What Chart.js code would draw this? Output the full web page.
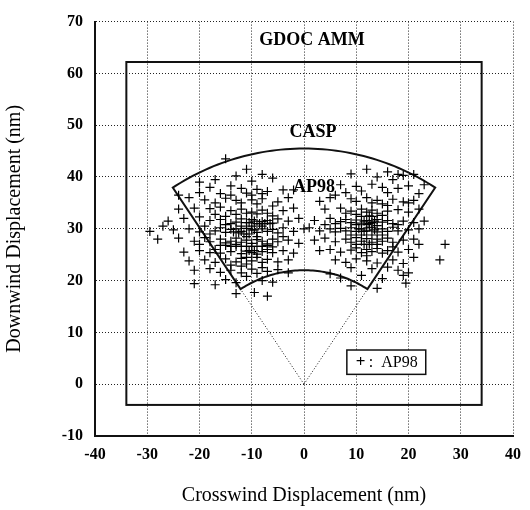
<!DOCTYPE html>
<html>
<head>
<meta charset="utf-8">
<script src="https://cdn.jsdelivr.net/npm/chart.js@4/dist/chart.umd.min.js"></script>
<style>
  html, body { margin: 0; padding: 0; background: #fff; }
</style>
</head>
<body>
<canvas id="dispChart" width="530" height="510"></canvas>
<script>
// --- dados ---
const xTicks = [-40, -30, -20, -10, 0, 10, 20, 30, 40];
const yTicks = [-10, 0, 10, 20, 30, 40, 50, 60, 70];

// AP98, nuvem da esquerda (crosswind, downwind)
const ap98Left = [
  [-15,43.5],[-11,41.5],[-13,40.2],[-8,40.5],[-17,39.5],[-6,39.8],[-10,39.2],[-20,39],
  [-18,38],[-14,38.3],[-12,37.8],[-9,37.6],[-7,37.2],[-4,37.5],[-20,37],[-16,36.8],[-11,36.9],[-2,37.5],
  [-22,36],[-19,35.6],[-15,35.9],[-13,35.5],[-10,35.6],[-8,35.8],[-5,35.2],[-3,36],[-17,35],[-12,35],[-9,34.8],[-24,36.5],[-10,36.5],[-8,36.8],[-14,36.5],
  [-24,33.8],[-21,34],[-18,33.9],[-16,34.2],[-14,33.5],[-12,33.8],[-10,33.2],[-8,33.6],[-7,33],[-6,34.4],[-4,33.5],[-2,34],[-11,33],[-9,32.9],[-13,32.8],[-17,32.8],[-6,32.5],
  [-26,31.5],[-23,32],[-20,32.3],[-18,31.6],[-16,31.8],[-15,32.4],[-13,31.3],[-12,31.9],[-11,31.2],[-10,31.8],[-9,31],[-8,31.4],[-7,31.6],[-6,31.1],[-5,31.9],[-3,31.5],[-1,32],[-9.5,31.5],[-8.5,31],[-7.5,31],[-6.5,31],[-10.5,31.2],[-14,31],[-15,30.8],
  [-12,30.5],[-10,30.5],[-8,30.5],
  [-29.5,29.5],[-27,30.5],[-25,29.8],[-22,30],[-20,29.4],[-19,30.5],[-17,29.6],[-16,30.2],[-15,29.3],[-14,29.9],[-13,30],[-12,29.5],[-11,30.1],[-10,29.8],[-9,29.3],[-8,30],[-7,29.5],[-6,29.9],[-5,29.2],[-4,30.2],[-2,29.5],[0,30],[-11.5,29],[-10.5,29],[-12.5,29.2],[-9.5,29.8],[-13.5,29.4],[-18,29],
  [-11,28.5],[-9,28.5],[-4,28.5],
  [-28,28],[-24,28.2],[-21,27.6],[-19,28.3],[-18,27.5],[-16,28],[-15,27.3],[-14,27.6],[-13,28.2],[-12,27.4],[-11,27.8],[-10,27.2],[-9,27.9],[-8,27.6],[-7,27.1],[-6,28],[-5,27.5],[-3,27.8],[-1,27.2],[-15,26.8],[-14,26.6],[-13,26.6],[-12,26.6],[-11,26.6],[-10,26.6],[-9,26.6],[-8,26.6],[-7,26.8],[-13,27],[-20,27],[-16,26.8],[-7,26],[-6,26.5],
  [-23,25.5],[-20,25.8],[-18,25.4],[-17,26],[-16,25.3],[-14,25.6],[-12,25.2],[-11,25.7],[-10,25.4],[-9,25.1],[-8,25.6],[-6,25.4],[-4,25.8],[-2,25.3],[-10.5,25.8],[-9.5,25.8],[-9,24.5],[-11,24.5],
  [-22,23.8],[-19,24],[-17,23.5],[-15,24.2],[-13,23.6],[-12,24.3],[-10,23.8],[-8,23.5],[-7,24.1],[-5,23.6],[-3,24],[-11,23.2],[-14,23],[-12,22.8],[-8,22.5],
  [-21,22],[-18,22.3],[-16,21.6],[-14,22],[-12,21.5],[-10,22.2],[-9,21.4],[-7,21.8],[-5,22.1],[-3,21.5],[-11,20.8],
  [-21,19.4],[-17,19.2],[-15,20.2],[-13,19.6],[-8,20],[-6,19.7],[-13,17.5],[-9.5,17.7],[-7,17]
];

// AP98, nuvem da direita
const ap98Right = [
  [12,41.5],[16,41],[19,40.3],[14,40],[9,40.6],[21,40.5],[17,39.5],[18,40.5],
  [7,38.5],[10,38.2],[13,38.6],[15,38],[18,37.8],[20,38.3],[11,37.3],[16,37],[22,36.8],[8,37],[23,38.5],[6,36.5],
  [5,36],[9,35.8],[12,36],[14,35.5],[17,35.7],[19,35.2],[21,35.5],[10,35.3],[13,35],[15,34.8],[3,35.3],[20,35],[16,34.5],
  [4,33.8],[7,34],[9,33.4],[11,33.8],[12,33.2],[13,33.6],[14,33],[16,33.4],[18,33.7],[20,33.2],[22,33.8],[10,32.8],[15,32.6],[12.5,32.5],[8,33],[11,32.4],[13,32.4],
  [2,31.6],[5,32],[7,31.4],[8,31.8],[9,31.2],[10,31.7],[11,31.1],[12,31.6],[13,31.2],[14,31.8],[15,31.3],[16,31.6],[17,31],[19,31.5],[21,31.2],[11.5,31.5],[12.5,31],[13.5,31.5],[23,31.5],[6,31],[4,30.8],
  [12,30.8],[10,30.8],[14,30.6],[18,30.8],
  [1,30.2],[3,29.6],[5,30],[6,29.4],[7,30.1],[8,29.6],[9,30.2],[10,29.5],[11,30],[12,29.6],[13,30.2],[14,29.4],[15,30],[16,29.5],[17,30.3],[18,29.6],[20,29.8],[22,30],[10.5,30],[11.5,29.5],[12.5,30.3],[13.5,29.8],
  [11,28.8],[13,28.8],[15,28.8],[9,28.8],
  [2,27.8],[4,28.2],[6,27.5],[8,28],[9,27.4],[10,28.3],[11,27.6],[12,28.1],[13,27.4],[14,28],[15,27.6],[16,28.2],[17,27.4],[19,27.8],[21,28],[27,27],[12.5,27],[11.5,27],[10,27],[14,27],[22,27],
  [3,25.8],[5,26],[7,25.5],[9,25.9],[11,25.4],[12,26],[13,25.6],[14,26.2],[15,25.3],[16,25.8],[18,25.5],[20,26],[26,24],[10,26.3],[17,26.5],[12,24.8],
  [6,24],[8,23.5],[10,24.2],[12,23.8],[14,23.4],[17,24],[19,23.3],[21,24.5],[9,22.5],[13,22.3],[16,22.6],[18,22],[20,21.5],
  [5,21.3],[7,20.5],[11,21],[15,20.4],[19,21],[9,19],[14,18.5],[19.5,19.5]
];

// regiões (unidades nm)
const gdocBox = { x1: -34, x2: 34, y1: -4, y2: 62.2 };
const caspSector = { rIn: 22, rOut: 45.5, halfAngleDeg: 33.5 };
const legendBox = { x1: 8.2, x2: 23.3, y1: 1.9, y2: 6.6 };

const serif = "'Liberation Serif', 'Times New Roman', serif";

function toXY(list) { return list.map(p => ({ x: p[0], y: p[1] })); }

const regioesPlugin = {
  id: 'regioes',
  beforeDatasetsDraw(chart) {
    const { ctx } = chart;
    const xs = chart.scales.x, ys = chart.scales.y;
    const px = v => xs.getPixelForValue(v);
    const py = v => ys.getPixelForValue(v);
    ctx.save();
    ctx.strokeStyle = '#111';

    // GDOC AMM
    ctx.lineWidth = 2;
    ctx.strokeRect(px(gdocBox.x1), py(gdocBox.y2), px(gdocBox.x2) - px(gdocBox.x1), py(gdocBox.y1) - py(gdocBox.y2));

    // CASP (setor)
    const a = caspSector.halfAngleDeg * Math.PI / 180;
    const n = 60;
    ctx.beginPath();
    for (let i = 0; i <= n; i++) {
      const t = -a + 2 * a * i / n;
      const X = px(caspSector.rOut * Math.sin(t)), Y = py(caspSector.rOut * Math.cos(t));
      if (i === 0) ctx.moveTo(X, Y); else ctx.lineTo(X, Y);
    }
    for (let i = n; i >= 0; i--) {
      const t = -a + 2 * a * i / n;
      ctx.lineTo(px(caspSector.rIn * Math.sin(t)), py(caspSector.rIn * Math.cos(t)));
    }
    ctx.closePath();
    ctx.stroke();

    // linhas pontilhadas da origem
    ctx.lineWidth = 1;
    ctx.setLineDash([1, 2]);
    ctx.beginPath();
    [-a, a].forEach(t => {
      ctx.moveTo(px(0), py(0));
      ctx.lineTo(px(caspSector.rIn * Math.sin(t)), py(caspSector.rIn * Math.cos(t)));
    });
    ctx.stroke();
    ctx.restore();
  },
  afterDatasetsDraw(chart) {
    const { ctx } = chart;
    const xs = chart.scales.x, ys = chart.scales.y;
    const px = v => xs.getPixelForValue(v);
    const py = v => ys.getPixelForValue(v);
    ctx.save();
    ctx.fillStyle = '#000';
    ctx.textAlign = 'center';
    ctx.textBaseline = 'middle';
    ctx.font = `bold 18px ${serif}`;
    ctx.fillText('GDOC AMM', 312, 40);
    ctx.fillText('CASP', 313, 132);
    ctx.fillText('AP98', 314, 187);

    // legenda
    const lx = px(legendBox.x1), ly = py(legendBox.y2);
    const lw = px(legendBox.x2) - lx, lh = py(legendBox.y1) - ly;
    ctx.fillStyle = '#fff';
    ctx.fillRect(lx, ly, lw, lh);
    ctx.strokeStyle = '#111';
    ctx.lineWidth = 1.5;
    ctx.strokeRect(lx, ly, lw, lh);
    ctx.fillStyle = '#000';
    ctx.textAlign = 'left';
    ctx.font = `bold 17px ${serif}`;
    ctx.fillText('+', lx + 9, ly + lh / 2);
    ctx.font = `16px ${serif}`;
    ctx.fillText(':  AP98', lx + 22, ly + lh / 2 + 1);
    ctx.restore();
  }
};

new Chart(document.getElementById('dispChart'), {
  type: 'scatter',
  data: {
    datasets: [
      { label: 'AP98', data: toXY(ap98Left.concat(ap98Right)), pointStyle: 'cross', pointRadius: 4.5, borderColor: '#000', borderWidth: 1.2, backgroundColor: '#000' }
    ]
  },
  options: {
    responsive: false,
    animation: false,
    layout: { padding: { top: 12, right: 8, left: 0, bottom: 0 } },
    plugins: { legend: { display: false }, tooltip: { enabled: false } },
    scales: {
      x: {
        type: 'linear', min: -40, max: 40,
        afterBuildTicks: s => { s.ticks = xTicks.map(v => ({ value: v })); },
        afterFit: s => { s.height = 74; },
        grid: { color: '#222', lineWidth: 1, drawTicks: false },
        border: { display: true, color: '#111', width: 2, dash: [1, 2] },
        ticks: { color: '#000', padding: 9, font: { family: serif, size: 16, weight: 'bold' } },
        title: { display: true, text: 'Crosswind Displacement (nm)', color: '#000', padding: { top: 2, bottom: 2 }, font: { family: serif, size: 20 } }
      },
      y: {
        type: 'linear', min: -10, max: 70,
        afterBuildTicks: s => { s.ticks = yTicks.map(v => ({ value: v })); },
        afterFit: s => { s.width = 95; },
        grid: { color: '#222', lineWidth: 1, drawTicks: false },
        border: { display: true, color: '#111', width: 2, dash: [1, 2] },
        ticks: { color: '#000', padding: 12, font: { family: serif, size: 16, weight: 'bold' } },
        title: { display: true, text: 'Downwind Displacement (nm)', color: '#000', padding: { top: 3, bottom: 0 }, font: { family: serif, size: 20 } }
      }
    }
  },
  plugins: [regioesPlugin]
});
</script>
</body>
</html>
